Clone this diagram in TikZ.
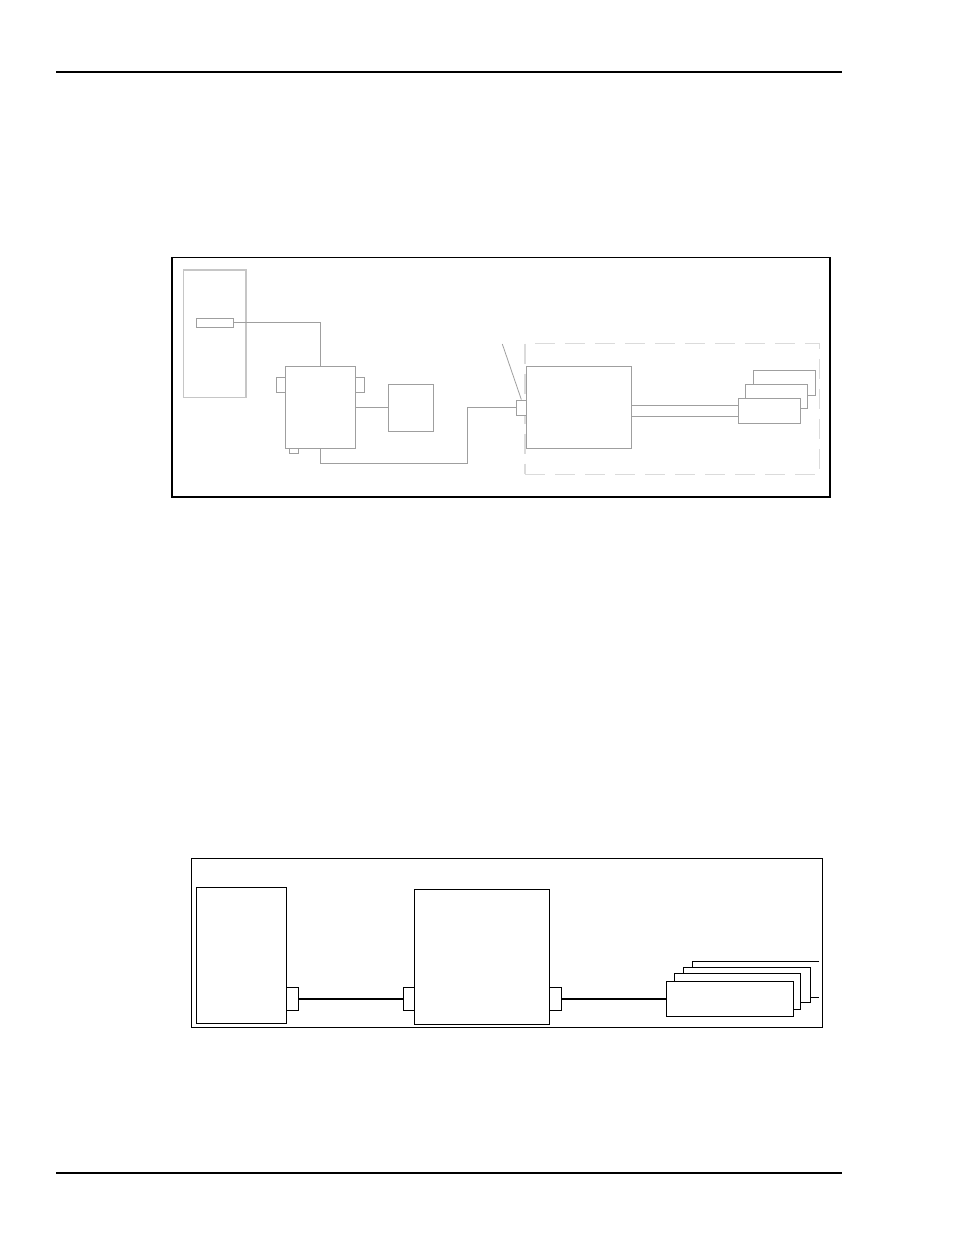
\documentclass[tikz,border=0pt]{standalone}
\usetikzlibrary{fit,calc}
\begin{document}
\begin{tikzpicture}[x=0.75pt,y=-0.75pt,
  rule/.style={line width=0.9pt,black},
  frame/.style={draw=black,line width=0.8pt,inner sep=0pt},
  gbox/.style={draw=gray!75,line width=0.6pt,inner sep=0pt,fill=white},
  lbox/.style={draw=gray!45,line width=0.8pt,inner sep=0pt},
  gline/.style={draw=gray!75,line width=0.6pt},
  dashbox/.style={draw=gray!28,line width=1.1pt,dash pattern=on 15pt off 7.5pt,inner sep=0pt},
  bbox/.style={draw=black,line width=0.8pt,inner sep=0pt,fill=white},
  thick line/.style={draw=black,line width=1.5pt}]
\useasboundingbox (0,0) rectangle (954,1235);
% page rules
\coordinate (r1a) at (56,72); \coordinate (r1b) at (842,72);
\coordinate (r2a) at (56,1173); \coordinate (r2b) at (842,1173);
\draw[rule] (r1a) -- (r1b);
\draw[rule] (r2a) -- (r2b);

% ===== top diagram =====
\node[frame, fit={(172,257.5)(830,497)}] (topframe) {};
\node[lbox, fit={(183.3,270)(246,397.7)}] (tall) {};
\node[gbox, fit={(196.7,318)(233.3,327.3)}] (slot) {};
\node[gbox, fit={(276,377.3)(285.7,392.3)}] (ltab) {};
\node[gbox, fit={(355.3,377.3)(364.7,392.3)}] (rtab) {};
\node[gbox, fit={(289,448.3)(298.7,453.7)}] (btab) {};
\node[gbox, fit={(285.7,366)(355.3,448.3)}] (hub) {};
\node[gbox, fit={(388.3,384)(433.7,431.3)}] (sbox) {};
\node[dashbox, fit={(525,343.3)(819.3,474.3)}] (dash) {};
\node[gbox, fit={(526,366)(631.7,448.3)}] (unit) {};
\node[gbox, fit={(516.7,400)(526,415.3)}] (conn) {};
\node[gbox, fit={(753.3,370.3)(815.7,395)}] (st3) {};
\node[gbox, fit={(745.3,384)(807.7,408.3)}] (st2) {};
\node[gbox, fit={(738.3,398.3)(800.7,423.7)}] (st1) {};

\draw[gline] (slot.east) -| (hub.north);
\draw[gline] (hub.east) -- (hub.east -| sbox.west);
\coordinate (bend) at (467.3,463);
\draw[gline] (hub.south) |- (bend) |- (conn.west);
\coordinate (lead) at (502.3,344);
\draw[gline] (lead) -- (conn.north);
\coordinate (d1) at (738.3,405.3);
\coordinate (d2) at (738.3,416.3);
\draw[gline] (d1 -| unit.east) -- (d1);
\draw[gline] (d2 -| unit.east) -- (d2);

% ===== bottom diagram =====
\node[frame, fit={(191.7,858.3)(822.3,1027.3)}] (botframe) {};
\node[bbox, fit={(196.7,887.3)(286.7,1023.3)}] (host) {};
\node[bbox, fit={(286.7,987.3)(298.3,1010.3)}] (hc) {};
\node[bbox, fit={(414.3,889.3)(549.3,1024.3)}] (ctrl) {};
\node[bbox, fit={(403.3,987.3)(414.3,1010.3)}] (cc1) {};
\node[bbox, fit={(549.3,987.3)(561.3,1010.3)}] (cc2) {};
\coordinate (b4a) at (819,961.3);
\coordinate (b4b) at (692.3,961.3);
\coordinate (b4c) at (692.3,997.3);
\coordinate (b4d) at (819,997.3);
\filldraw[fill=white,draw=black,line width=0.8pt] (b4a) -- (b4b) -- (b4c) -- (b4d);
\node[bbox, fit={(683.3,967.3)(810.7,1002.3)}] (dv3) {};
\node[bbox, fit={(674.3,973.3)(800.7,1009.3)}] (dv2) {};
\node[bbox, fit={(666.3,981.3)(793.7,1016.7)}] (dv1) {};
\draw[thick line] (hc.east) -- (cc1.west);
\draw[thick line] (cc2.east) -- (cc2.east -| dv1.west);
\end{tikzpicture}
\end{document}
